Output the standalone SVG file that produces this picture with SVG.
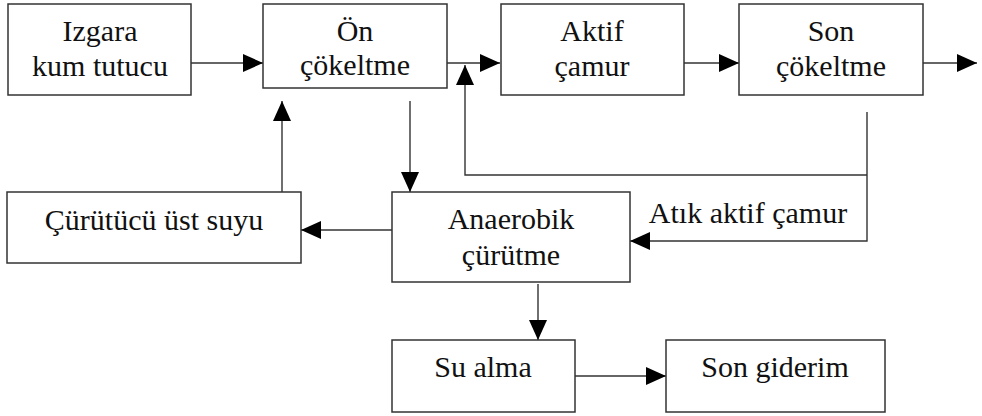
<svg xmlns="http://www.w3.org/2000/svg" width="982" height="416" viewBox="0 0 982 416">
<style>
.box{fill:#fff;stroke:#333;stroke-width:1.5}
.ln{fill:none;stroke:#333;stroke-width:1.4;marker-end:url(#ah)}
.t{font-family:Liberation Serif, Tinos, Noto Serif, DejaVu Serif, FreeSerif, Times, serif;font-size:30px;fill:#111;text-anchor:middle}
</style>
<defs>
<marker id="ah" viewBox="0 0 20 18" refX="20" refY="9" markerWidth="20" markerHeight="18" markerUnits="userSpaceOnUse" orient="auto">
<path d="M0,0 L20,9 L0,18 Z" fill="#000"/>
</marker>
</defs>
<rect width="982" height="416" fill="#fff"/>
<g id="connectors">
<path class="ln" d="M191,63 H263"/>
<path class="ln" d="M447,63 H500"/>
<path class="ln" d="M684,63 H739"/>
<path class="ln" d="M923,63 H977"/>
<path class="ln" d="M867,112 V241 H630"/>
<path class="ln" d="M867,175 H465 V65"/>
<path class="ln" d="M410,101 V192"/>
<path class="ln" d="M282,192 V101"/>
<path class="ln" d="M392,230 H301"/>
<path class="ln" d="M538,284 V340"/>
<path class="ln" d="M575,376 H666"/>
<text class="t" x="748" y="223">Atık aktif çamur</text>
</g>
<g id="izgara"><rect class="box" x="8" y="4" width="183" height="91"/><text class="t" x="100" y="41">Izgara</text><text class="t" x="100" y="76">kum tutucu</text></g>
<g id="on"><rect class="box" x="263" y="4" width="184" height="84"/><text class="t" x="355" y="41">Ön</text><text class="t" x="355" y="75">çökeltme</text></g>
<g id="aktif"><rect class="box" x="501" y="4" width="183" height="91"/><text class="t" x="592" y="41">Aktif</text><text class="t" x="592" y="76">çamur</text></g>
<g id="son"><rect class="box" x="739" y="4" width="184" height="91"/><text class="t" x="831" y="41">Son</text><text class="t" x="831" y="76">çökeltme</text></g>
<g id="curutucu"><rect class="box" x="7" y="192" width="294" height="71"/><text class="t" x="154" y="230">Çürütücü üst suyu</text></g>
<g id="anaerobik"><rect class="box" x="392" y="192" width="238" height="90"/><text class="t" x="511" y="229">Anaerobik</text><text class="t" x="511" y="265">çürütme</text></g>
<g id="sualma"><rect class="box" x="392" y="340" width="183" height="72"/><text class="t" x="483" y="377">Su alma</text></g>
<g id="songiderim"><rect class="box" x="666" y="340" width="219" height="72"/><text class="t" x="775" y="377">Son giderim</text></g>
</svg>
